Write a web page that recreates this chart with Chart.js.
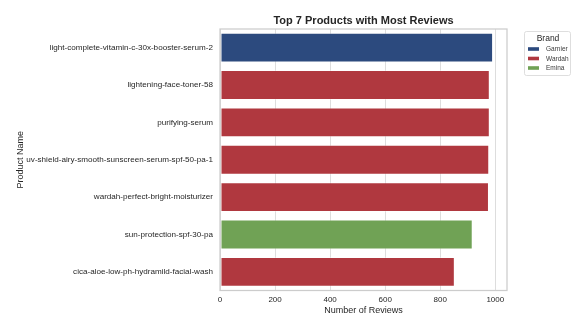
<!DOCTYPE html>
<html>
<head>
<meta charset="utf-8">
<script src="https://cdn.jsdelivr.net/npm/chart.js@4"></script>
<style>
  html, body { margin: 0; padding: 0; background: #fff; }
  #wrap { width: 573px; height: 316px; }
</style>
</head>
<body>
<div id="wrap"><canvas id="reviews" width="573" height="316"></canvas></div>
<script>
const products = [
  'light-complete-vitamin-c-30x-booster-serum-2',
  'lightening-face-toner-58',
  'purifying-serum',
  'uv-shield-airy-smooth-sunscreen-serum-spf-50-pa-1',
  'wardah-perfect-bright-moisturizer',
  'sun-protection-spf-30-pa',
  'cica-aloe-low-ph-hydramild-facial-wash'
];
const productBrand = ['Garnier', 'Wardah', 'Wardah', 'Wardah', 'Wardah', 'Emina', 'Wardah'];
const reviewCounts = [992, 980, 980, 978, 977, 918, 853];
const brands = ['Garnier', 'Wardah', 'Emina'];
const brandColors = ['#2c4a7e', '#b0383f', '#70a255'];
const xTicks = [0, 200, 400, 600, 800, 1000];

const datasets = brands.map((b, k) => ({
  label: b,
  data: reviewCounts.map((v, i) => productBrand[i] === b ? v : null),
  backgroundColor: brandColors[k],
  borderColor: 'rgba(255,255,255,0.35)',
  borderWidth: 1,
  borderSkipped: false,
  categoryPercentage: 0.8,
  barPercentage: 1.0,
  grouped: false
}));

const frame = {
  id: 'frame',
  afterDraw(chart) {
    const { ctx, chartArea: a } = chart;
    ctx.save();
    ctx.strokeStyle = '#cccccc';
    ctx.lineWidth = 1.25;
    ctx.strokeRect(a.left, a.top, a.right - a.left, a.bottom - a.top);

    // title
    ctx.fillStyle = '#262626';
    ctx.font = 'bold 11px "Liberation Sans", Arial, sans-serif';
    ctx.textAlign = 'center';
    ctx.textBaseline = 'alphabetic';
    ctx.fillText('Top 7 Products with Most Reviews', (a.left + a.right) / 2, 24);

    // legend
    const lx = 524, ly = 31, lw = 46, lh = 44;
    ctx.fillStyle = '#ffffff';
    ctx.strokeStyle = '#d6d6d6';
    ctx.lineWidth = 0.8;
    ctx.beginPath();
    ctx.roundRect(lx + 0.5, ly + 0.5, lw, lh, 2);
    ctx.fill();
    ctx.stroke();
    ctx.fillStyle = '#262626';
    ctx.font = '8.5px "Liberation Sans", Arial, sans-serif';
    ctx.textBaseline = 'middle';
    ctx.fillText('Brand', lx + lw / 2 + 1, ly + 8);
    ctx.font = '6.5px "Liberation Sans", Arial, sans-serif';
    ctx.textAlign = 'left';
    chart.data.datasets.forEach((ds, i) => {
      const y = ly + 18 + i * 9.5;
      ctx.fillStyle = ds.backgroundColor;
      ctx.fillRect(lx + 4, y - 1.8, 11, 3.6);
      ctx.fillStyle = '#3a3a3a';
      ctx.fillText(ds.label, lx + 22, y + 0.5);
    });
    ctx.restore();
  }
};

new Chart(document.getElementById('reviews'), {
  type: 'bar',
  data: { labels: products, datasets },
  options: {
    indexAxis: 'y',
    responsive: false,
    animation: false,
    layout: { padding: { left: 15, top: 29, right: 66, bottom: 0 } },
    plugins: {
      legend: { display: false },
      tooltip: { enabled: false },
      title: { display: false }
    },
    scales: {
      x: {
        min: 0,
        max: 1042.5,
        afterBuildTicks: s => { s.ticks = xTicks.map(v => ({ value: v })); },
        afterFit: s => { s.height = 25.5; },
        grid: { color: '#dddddd', lineWidth: 1, drawTicks: false },
        border: { display: false },
        ticks: {
          color: '#262626', padding: 4,
          callback: v => String(v),
          font: { family: '"Liberation Sans", Arial, sans-serif', size: 8 }
        },
        title: {
          display: true, text: 'Number of Reviews', color: '#262626',
          padding: { top: 0, bottom: 0 },
          font: { family: '"Liberation Sans", Arial, sans-serif', size: 9 }
        }
      },
      y: {
        offset: true,
        afterFit: s => { s.width = 205; },
        grid: { display: false, drawTicks: false },
        border: { display: false },
        ticks: {
          color: '#262626', padding: 7,
          font: { family: '"Liberation Sans", Arial, sans-serif', size: 8.1 }
        },
        title: {
          display: true, text: 'Product Name', color: '#262626',
          padding: { top: 0, bottom: 0 },
          font: { family: '"Liberation Sans", Arial, sans-serif', size: 9 }
        }
      }
    }
  },
  plugins: [frame]
});
</script>
</body>
</html>
